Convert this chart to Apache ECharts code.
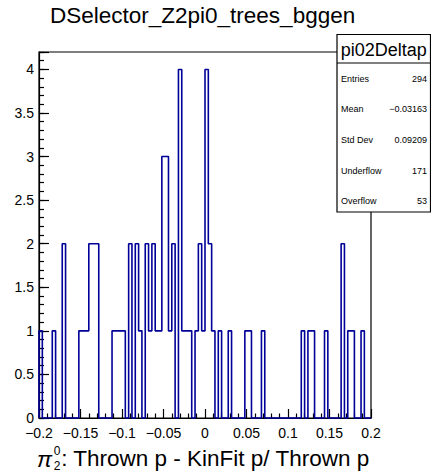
<!DOCTYPE html>
<html><head><meta charset="utf-8">
<script src="https://cdn.jsdelivr.net/npm/echarts@6/dist/echarts.min.js"></script>
<style>html,body{margin:0;padding:0;background:#fff}#c{width:431px;height:472px}</style>
</head><body><div id="c"></div>
<script>
// ---- data ----
const chartTitle = 'DSelector_Z2pi0_trees_bggen';
const histName = 'pi02Deltap';
const xMin = -0.2;
const xMax = 0.2;
const binWidth = 0.004;
const counts = [
  1,0,0,0,1,0,0,2,0,0,
  0,0,1,1,1,2,2,2,0,0,
  0,0,1,1,1,1,0,2,0,2,
  1,0,2,1,2,1,1,3,3,1,
  2,0,4,1,1,1,0,1,2,1,
  4,2,1,0,1,0,0,1,0,0,
  0,0,1,1,0,0,0,1,0,0,
  0,0,0,0,0,0,0,0,0,1,
  0,1,1,0,0,0,1,0,0,0,
  0,2,0,1,1,0,0,1,0,0
];
const xTickValues = [-0.2,-0.15,-0.1,-0.05,0,0.05,0.1,0.15,0.2];
const xTickLabels = ['\u22120.2','\u22120.15','\u22120.1','\u22120.05','0','0.05','0.1','0.15','0.2'];
const yTickValues = [0,0.5,1,1.5,2,2.5,3,3.5,4];
const yTickLabels = ['0','0.5','1','1.5','2','2.5','3','3.5','4'];
const yMax = 4.2;
const statsLabels = ['Entries','Mean','Std Dev','Underflow','Overflow'];
const statsValues = ['294','\u22120.03163','0.09209','171','53'];
const xTitleMain = ': Thrown p - KinFit p/ Thrown p';

// ---- build outline from counts ----
const outline = [[xMin, 0]];
counts.forEach((c, i) => {
  const lo = xMin + i * binWidth, hi = xMin + (i + 1) * binWidth;
  outline.push([lo, c], [hi, c]);
});
outline.push([xMax, 0]);

function labelFor(values, labels, v) {
  for (let i = 0; i < values.length; i++) if (Math.abs(values[i] - v) < 1e-9) return labels[i];
  return '';
}

const FONT = 'Liberation Sans, Arial, Helvetica, sans-serif';
const chart = echarts.init(document.getElementById('c'), null, {renderer: 'svg'});

// measure text for x title layout
const cv = document.createElement('canvas').getContext('2d');
const xtFont = 22.5;
cv.font = xtFont + 'px Liberation Sans';
const mainW = cv.measureText(xTitleMain).width;
const titleRight = 370, titleY = 458;
const scriptX = titleRight - mainW;

const boxL = 337, boxT = 34.5, boxR = 430.5, boxB = 212, headB = 63;
const rowY = [78.5, 109.3, 140, 170.7, 200.7];

const graphics = [
  {type: 'text', left: 50, top: 4, style: {text: chartTitle, font: '22.5px ' + FONT, fill: '#000'}},
  {type: 'rect', shape: {x: boxL, y: boxT, width: boxR - boxL, height: boxB - boxT}, style: {fill: '#fff', stroke: '#000', lineWidth: 1.2}, z: 100},
  {type: 'line', shape: {x1: boxL, y1: headB, x2: boxR, y2: headB}, style: {stroke: '#000', lineWidth: 1.2}, z: 101},
  {type: 'text', x: (boxL + boxR) / 2, y: (boxT + headB) / 2 + 1, style: {text: histName, font: '18px ' + FONT, fill: '#000', align: 'center', verticalAlign: 'middle'}, z: 101},
  {type: 'text', x: scriptX, y: titleY, style: {text: xTitleMain, font: xtFont + 'px ' + FONT, fill: '#000', align: 'left', verticalAlign: 'middle'}, z: 101},
  {type: 'text', x: scriptX - 9, y: titleY + 1, style: {text: '\u03c0', font: 'italic ' + xtFont + 'px ' + FONT, fill: '#000', align: 'right', verticalAlign: 'middle'}, z: 101},
  {type: 'text', x: scriptX - 4, y: titleY - 7, style: {text: '0', font: '12px ' + FONT, fill: '#000', align: 'center', verticalAlign: 'middle'}, z: 101},
  {type: 'text', x: scriptX - 4, y: titleY + 8, style: {text: '2', font: '12px ' + FONT, fill: '#000', align: 'center', verticalAlign: 'middle'}, z: 101}
];
statsLabels.forEach((lab, i) => {
  graphics.push({type: 'text', x: boxL + 4, y: rowY[i], style: {text: lab, font: '9px ' + FONT, fill: '#000', align: 'left', verticalAlign: 'middle'}, z: 101});
  graphics.push({type: 'text', x: boxR - 3.5, y: rowY[i], style: {text: statsValues[i], font: '9px ' + FONT, fill: '#000', align: 'right', verticalAlign: 'middle'}, z: 101});
});

chart.setOption({
  animation: false,
  backgroundColor: '#fff',
  textStyle: {fontFamily: FONT},
  grid: {left: 39, right: 60, top: 52, bottom: 54, show: true, borderColor: '#000', borderWidth: 1.2, backgroundColor: 'transparent'},
  xAxis: [{
    type: 'value', min: xMin, max: xMax, interval: 0.05, position: 'bottom',
    axisLine: {show: true, onZero: false, lineStyle: {color: '#000', width: 1.2}},
    axisTick: {show: true, inside: true, length: 9, lineStyle: {color: '#000', width: 1.2}},
    minorTick: {show: true, splitNumber: 5, length: 4.5, lineStyle: {color: '#000', width: 1.2}},
    splitLine: {show: false}, minorSplitLine: {show: false},
    axisLabel: {show: true, margin: 8, fontSize: 14, lineHeight: 13, color: '#000', fontFamily: FONT,
      showMinLabel: true, showMaxLabel: true,
      formatter: v => labelFor(xTickValues, xTickLabels, v)}
  }],
  yAxis: [{
    type: 'value', min: 0, max: yMax, interval: 0.5, position: 'left',
    axisLine: {show: true, onZero: false, lineStyle: {color: '#000', width: 1.2}},
    axisTick: {show: true, inside: true, length: 10, lineStyle: {color: '#000', width: 1.2}},
    splitLine: {show: false},
    axisLabel: {show: true, margin: 5, fontSize: 14, lineHeight: 11, color: '#000', fontFamily: FONT,
      verticalAlign: 'middle',
      formatter: v => labelFor(yTickValues, yTickLabels, v)}
  }, {
    type: 'value', min: 0, max: yMax, interval: 0.1, position: 'left',
    axisLine: {show: false, onZero: false},
    axisTick: {show: true, inside: true, length: 5, lineStyle: {color: '#000', width: 1.2}},
    splitLine: {show: false},
    axisLabel: {show: false}
  }],
  series: [{
    type: 'line', xAxisIndex: 0, yAxisIndex: 0, data: outline,
    symbol: 'none', clip: false,
    lineStyle: {color: '#000099', width: 1.6}
  }],
  graphic: graphics
});
</script>
</body></html>
